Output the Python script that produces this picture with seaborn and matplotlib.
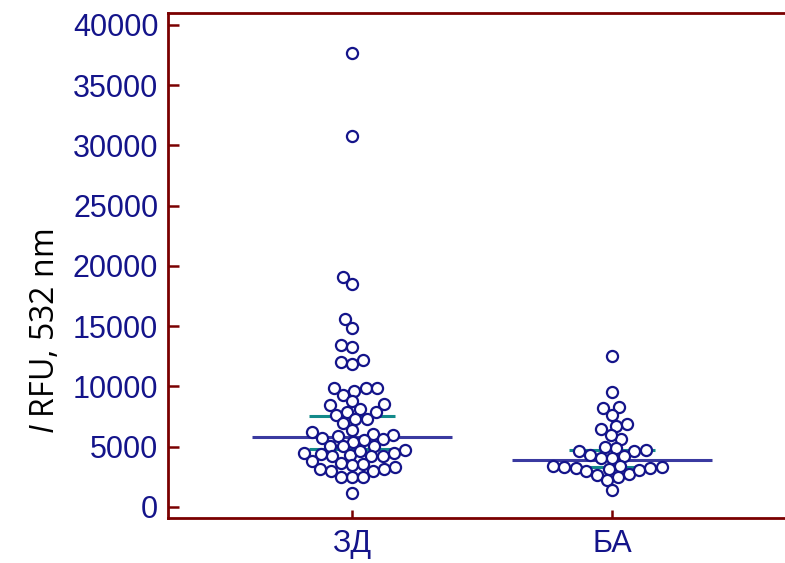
import numpy as np
import pandas as pd
import matplotlib
matplotlib.use('Agg')
import matplotlib.pyplot as plt
import seaborn as sns

# ==== data ====
groups = ['ЗД', 'БА']

zd_values = [37650, 30790, 19060, 18480, 15580, 14880, 13420, 13300, 12200, 12060, 11870,
             9650, 9850, 9880, 9880, 9300,
             8440, 8520, 8770, 8110,
             7640, 7860, 7860, 7280, 7330, 6950,
             5980, 6090, 6200, 6420, 5870, 5730, 5620,
             5400, 5540, 5040, 5090, 5090, 4760,
             4210, 4210, 4260, 4340, 4460, 4460, 4420, 4650,
             3680, 3790, 3570, 3460, 3290,
             3130, 3130, 2990, 3010,
             2520, 2520, 2520, 1140]

ba_values = [12530, 9520, 8190, 8300, 7610,
             6450, 6750, 6860, 5670, 5950,
             4670, 4670, 4700, 4870, 5010,
             4040, 4040, 4230, 4320,
             3400, 3400, 3260, 3260, 3350, 3350, 3130, 2990, 2770, 3070, 2520, 2630,
             2210, 1410]

medians = [5810, 3930]
ci_low = [4810, 3320]
ci_high = [7580, 4730]

df = pd.DataFrame({
    'group': ['ЗД'] * len(zd_values) + ['БА'] * len(ba_values),
    'value': zd_values + ba_values,
})

# ==== colors ====
navy = '#14148a'
maroon = '#7a0000'
median_col = '#3a3aa0'
ci_col = '#138a8a'

sns.set_style('white')
plt.rcParams['font.family'] = ['Liberation Sans', 'DejaVu Sans']
plt.rcParams['mathtext.fontset'] = 'custom'
plt.rcParams['mathtext.it'] = 'Open Sans:italic'
plt.rcParams['mathtext.rm'] = 'Open Sans'

fig = plt.figure(figsize=(7.85, 5.63), dpi=100)
ax = fig.add_axes([0.214, 0.080, 0.786, 0.897])

# lines first so the dots sit on top
for i, g in enumerate(groups):
    ax.hlines(medians[i], i - 0.385, i + 0.385, color=median_col, lw=2.2, zorder=1)
    ax.hlines([ci_low[i], ci_high[i]], i - 0.165, i + 0.165, color=ci_col, lw=2.2, zorder=1)
    ax.vlines(i, ci_low[i], ci_high[i], color=ci_col, lw=2.2, zorder=1)

# swarm laid out with a smaller dot, then drawn bigger (dots overlap a bit like the original)
sns.swarmplot(data=df, x='group', y='value', order=groups, ax=ax,
              color='white', edgecolor=navy, linewidth=1.6, size=6.2, zorder=3)

ax.set_xlim(-0.708, 1.665)
ax.set_ylim(-913, 41000)
ax.set_yticks(np.arange(0, 40001, 5000))

for side in ['left', 'top', 'bottom']:
    ax.spines[side].set_color(maroon)
    ax.spines[side].set_linewidth(2)
ax.spines['right'].set_visible(False)

ax.tick_params(axis='y', direction='in', length=8, width=1.8, color=maroon,
               labelsize=22, labelcolor=navy, pad=7, left=True)
ax.tick_params(axis='x', direction='in', length=6, width=1.8, color=maroon,
               labelsize=22, labelcolor=navy, pad=8, bottom=True)

ax.set_xlabel('')
ax.set_ylabel(r'$\mathit{I}$ RFU, 532 nm', fontsize=23, color='black',
              fontfamily='Open Sans')
ax.yaxis.set_label_coords(-0.172, 0.369)

fig.canvas.draw()
for pts in ax.collections:
    if 'draw' in pts.__dict__:
        del pts.draw  # keep the swarm positions fixed
        pts.set_sizes([8.0 ** 2])

plt.savefig('out.png', dpi=100)
